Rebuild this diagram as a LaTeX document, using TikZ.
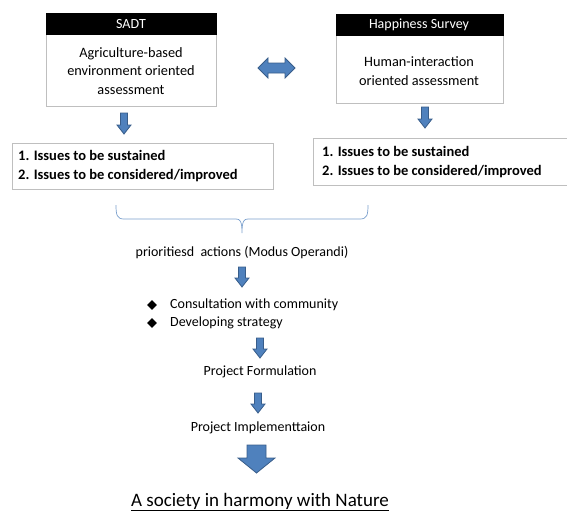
\documentclass[tikz,border=0pt]{standalone}
\usepackage{fontspec}
\setmainfont{Carlito}
\usetikzlibrary{shapes.geometric}
\definecolor{arrowfill}{HTML}{4F81BD}
\definecolor{arrowline}{HTML}{385D8A}
\definecolor{boxline}{HTML}{BFBFBF}
\definecolor{bracecol}{HTML}{7BA0CD}
\tikzset{
  txt/.style={inner sep=0pt, font=\fontsize{14}{18.5}\selectfont, align=center},
  btxt/.style={inner sep=0pt, font=\fontsize{14.5}{19}\selectfont\bfseries, align=left, anchor=west},
  hdr/.style={fill=black, draw=black},
  frame/.style={draw=boxline, line width=0.8pt, fill=white},
  blk/.style={fill=arrowfill, draw=arrowline, line width=0.8pt, line join=miter},
  bul/.style={diamond, fill=black, minimum size=10pt, inner sep=0pt},
}
% down block arrow: center x, top y, bottom y, shaft half width, head half width, head length
\newcommand{\dnarrow}[6]{%
  \draw[blk] (#1-#4,#2) -- (#1+#4,#2) -- (#1+#4,#3-#6) -- (#1+#5,#3-#6) -- (#1,#3)
    -- (#1-#5,#3-#6) -- (#1-#4,#3-#6) -- cycle;}
\begin{document}
\begin{tikzpicture}[x=1pt,y=-1pt]
\useasboundingbox (0,0) rectangle (567,512);
% SADT box
\draw[frame] (46,34) rectangle (216,106);
\draw[hdr] (46,13) rectangle (216,34);
\node[txt, text=white] (sadt) at (131,24) {SADT};
\node[txt, font=\fontsize{14.3}{18.7}\selectfont] (agri) at (131,71) {Agriculture-based\\environment oriented\\assessment};
% Happiness box
\draw[frame] (336,35) rectangle (503,103);
\draw[hdr] (336,14) rectangle (503,35);
\node[txt, text=white] (hap) at (419,25) {Happiness Survey};
\node[txt, font=\fontsize{14.3}{18.7}\selectfont] (human) at (419,71) {Human-interaction\\oriented assessment};
% double arrow
\draw[blk] (258,68) -- (268,58) -- (268,63) -- (285,63) -- (285,58) -- (295,68)
  -- (285,78) -- (285,73) -- (268,73) -- (268,78) -- cycle;
% small arrows
\dnarrow{124}{113}{134}{3.5}{7}{9}
\dnarrow{425}{107}{128}{3.5}{7}{9}
% issues boxes
\draw[frame] (12,143) rectangle (273,189);
\node[btxt] (issL) at (18,166) {1. Issues to be sustained\\2. Issues to be considered/improved};
\draw[frame] (313,138) rectangle (567,185);
\node[btxt] (issR) at (322,162) {1. Issues to be sustained\\2. Issues to be considered/improved};
% brace
\draw[bracecol, line width=0.7pt] (116,205) .. controls (116,215) and (117,219) .. (124,219)
  -- (236,219) .. controls (240,219) and (242,221) .. (242,233)
  .. controls (242,221) and (244,219) .. (248,219) -- (360,219)
  .. controls (367,219) and (368,215) .. (368,205);
\node[txt] (prio) at (242,253) {prioritiesd\ \ actions (Modus Operandi)};
\dnarrow{242}{267}{287}{3.5}{7}{9}
% bullets
\node[bul] (b1) at (152,305) {};
\node[txt, anchor=west] (cons) at (170,305) {Consultation with community};
\node[bul] (b2) at (152,323) {};
\node[txt, anchor=west] (dev) at (170,323) {Developing strategy};
\dnarrow{260}{338}{358}{3.5}{7}{9}
\node[txt] (form) at (260,372) {Project Formulation};
\dnarrow{258}{393}{413}{3.5}{7}{9}
\node[txt] (impl) at (258,428) {Project Implementtaion};
\dnarrow{256.5}{445}{473}{9.5}{18.5}{15}
\node[inner sep=0pt, font=\fontsize{19}{22}\selectfont] (soc) at (260,502) {\underline{A society in harmony with Nature}};
\end{tikzpicture}
\end{document}
